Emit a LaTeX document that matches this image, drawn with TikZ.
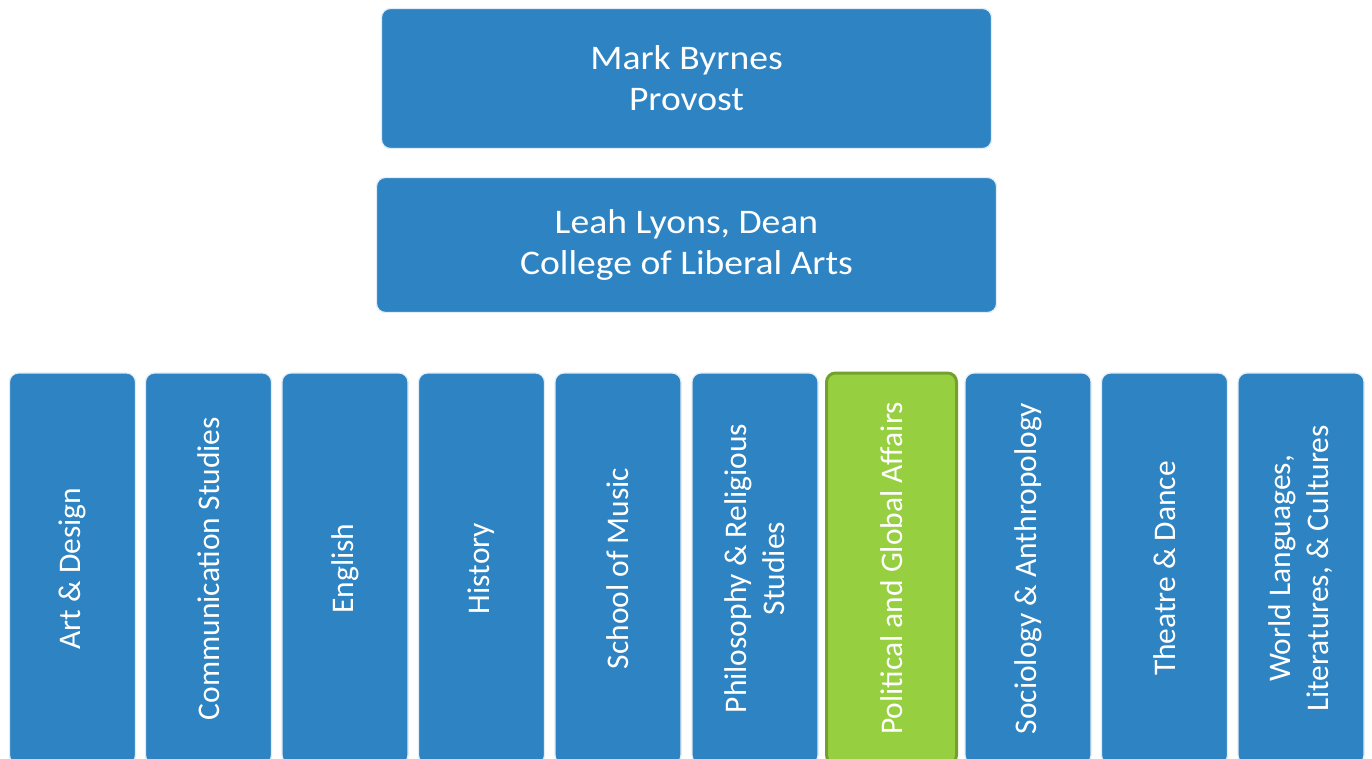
\documentclass[tikz,border=0pt]{standalone}
\usepackage{fontspec}
\setmainfont{Carlito}
\newfontfamily\widefont[FakeStretch=1.09]{Carlito}
\definecolor{boxblue}{HTML}{2E83C3}
\definecolor{boxgreen}{HTML}{96D040}
\definecolor{greenline}{HTML}{74A12E}
\begin{document}
\begin{tikzpicture}[x=1pt,y=-1pt,
  topbox/.style={draw=white!85!boxblue, line width=1.2pt, fill=boxblue, rounded corners=9pt,
    text=white, align=center, font=\widefont\fontsize{34.5}{41}\selectfont, inner sep=0pt},
  colbox/.style={draw=white!85!boxblue, line width=1.2pt, fill=boxblue, rounded corners=9pt,
    text=white, align=center, font=\fontsize{31.5}{38}\selectfont, inner sep=0pt,
    rotate=90, minimum width=391pt, minimum height=126pt},
  hibox/.style={colbox, fill=boxgreen, draw=greenline, line width=3pt}]
\useasboundingbox (0,0) rectangle (1372,759);
\node[topbox, minimum width=610pt, minimum height=140pt] (provost) at (686.5,78.5) {Mark Byrnes\\Provost};
\node[topbox, minimum width=620pt, minimum height=135pt] (dean) at (686.5,245) {Leah Lyons, Dean\\College of Liberal Arts};
\begin{scope}
\clip (0,0) rectangle (1372,759);
\node[colbox] (art) at (72.5,568.5) {Art \& Design};
\node[colbox] (comm) at (208.5,568.5) {Communication Studies};
\node[colbox] (eng) at (345,568.5) {English};
\node[colbox] (hist) at (481.5,568.5) {History};
\node[colbox] (music) at (618,568.5) {School of Music};
\node[colbox] (phil) at (755,568.5) {Philosophy \& Religious\\Studies};
\node[hibox, minimum height=130pt] (pol) at (891.5,568.5) {Political and Global Affairs};
\node[colbox] (soc) at (1028,568.5) {Sociology \& Anthropology};
\node[colbox] (thea) at (1164.5,568.5) {Theatre \& Dance};
\node[colbox] (world) at (1301,568.5) {World Languages,\\Literatures, \& Cultures};
\end{scope}
\end{tikzpicture}
\end{document}
